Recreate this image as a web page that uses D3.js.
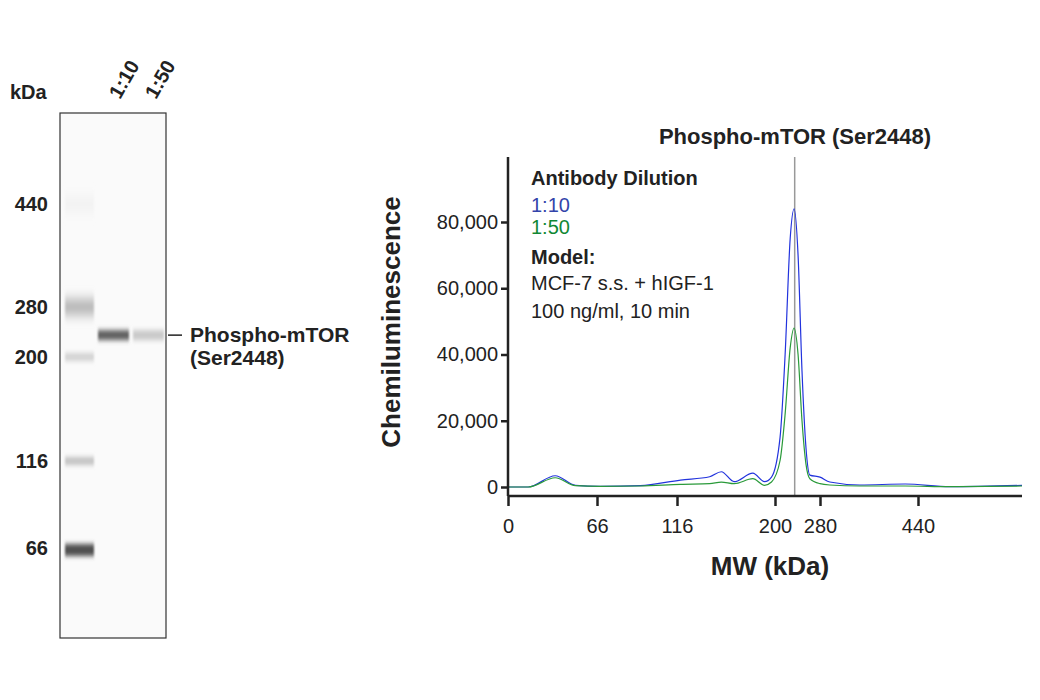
<!DOCTYPE html>
<html><head><meta charset="utf-8">
<script src="https://cdn.jsdelivr.net/npm/d3@7"></script>
<style>body{margin:0;background:#fff}text{font-family:"Liberation Sans",Arial,sans-serif;fill:#222}</style>
</head><body><svg id="c" width="1040" height="700"></svg>
<script>
const xTicks=[0,66,116,200,280,440];
const yTicks=[0,20000,40000,60000,80000];
const kda10=[0,15,35,50,68,93,119,144,154,165,181,191,197,209,218,227,234,241,248,255,262,280,296,345,419,492,610];
const val10=[0,0,3400,500,200,400,2100,3100,4600,1600,4200,1600,3000,15000,40000,75000,84000,70000,35000,12000,3600,3000,1500,600,900,100,500];
const kda50=[0,15,35,50,68,93,119,144,154,165,181,191,197,209,218,227,234,241,248,255,262,280,296,345,419,492,610];
const val50=[0,0,2800,400,200,300,800,1000,1500,1000,2500,500,1500,8000,22000,42000,48000,40000,20000,7000,2500,1000,600,300,300,100,300];
const ladderKda=[440,280,200,116,66];
const ladderInt=[0.1,0.4,0.28,0.35,0.75];
const lanes=["1:10","1:50"];
const laneInt=[0.7,0.32];
const targetKda=235;

const svg=d3.select("#c");
const gy=d3.scaleLinear().domain([66,116,200,280,440]).range([548,461,357,307,204]);
const defs=svg.append("defs");
defs.append("filter").attr("id","b").attr("x","-20%").attr("y","-200%").attr("width","140%").attr("height","500%")
 .append("feGaussianBlur").attr("stdDeviation","1 2.5");
defs.append("filter").attr("id","b2").attr("x","-20%").attr("y","-200%").attr("width","140%").attr("height","500%")
 .append("feGaussianBlur").attr("stdDeviation","1 6");
svg.append("rect").attr("x",60).attr("y",113).attr("width",106).attr("height",525).attr("fill","#fafafa").attr("stroke","#333").attr("stroke-width",1.2);
svg.selectAll(".lad").data(ladderKda).join("rect").attr("x",65).attr("width",29)
 .attr("y",d=>gy(d)-(d>=280?8:4)).attr("height",d=>d>=280?16:(d==66?12:8))
 .attr("fill",(d,i)=>d3.interpolateGreys(ladderInt[i])).attr("filter",d=>d>=280?"url(#b2)":"url(#b)");
svg.selectAll(".ln").data(lanes).join("rect").attr("x",(d,i)=>98+i*35).attr("width",31)
 .attr("y",gy(targetKda)-5).attr("height",10).attr("fill",(d,i)=>d3.interpolateGreys(laneInt[i])).attr("filter","url(#b)");
svg.selectAll(".gl").data(ladderKda).join("text").attr("x",48).attr("y",d=>gy(d)+7).attr("text-anchor","end")
 .attr("font-size",20).attr("font-weight","bold").text(d=>d);
svg.append("text").attr("x",10).attr("y",99).attr("font-size",20).attr("font-weight","bold").text("kDa");
svg.selectAll(".lt").data(lanes).join("text").attr("font-size",20).attr("font-weight","bold")
 .attr("transform",(d,i)=>`translate(${120+i*36},100) rotate(-60)`).text(d=>d);
svg.append("line").attr("x1",168).attr("x2",182).attr("y1",gy(targetKda)).attr("y2",gy(targetKda)).attr("stroke","#222").attr("stroke-width",1.5);
svg.append("text").attr("x",190).attr("y",gy(targetKda)+7).attr("font-size",21).attr("font-weight","bold").text("Phospho-mTOR");
svg.append("text").attr("x",190).attr("y",gy(targetKda)+30).attr("font-size",21).attr("font-weight","bold").text("(Ser2448)");

const x=d3.scaleLinear().domain([0,66,116,200,280,440,610]).range([508,597,677,775,820,918,1022]);
const y=d3.scaleLinear().domain([0,80000]).range([487,222]);
const line=d3.line().x(d=>x(d[0])).y(d=>y(d[1])).curve(d3.curveMonotoneX);
svg.append("line").attr("x1",x(targetKda)).attr("x2",x(targetKda)).attr("y1",157).attr("y2",496).attr("stroke","#999").attr("stroke-width",1.5);
svg.append("path").datum(kda10.map((k,i)=>[k,val10[i]])).attr("d",line).attr("fill","none").attr("stroke","#2233dd").attr("stroke-width",1.2);
svg.append("path").datum(kda50.map((k,i)=>[k,val50[i]])).attr("d",line).attr("fill","none").attr("stroke","#2a9a3a").attr("stroke-width",1.2);
const xa=svg.append("g").attr("transform","translate(0,496)").call(d3.axisBottom(x).tickValues(xTicks).tickSize(10).tickFormat(d3.format("d")));
xa.select(".domain").attr("d","M508,0H1022").attr("stroke","#222").attr("stroke-width",2.5);
const ya=svg.append("g").attr("transform","translate(508,0)").call(d3.axisLeft(y).tickValues(yTicks).tickSize(7).tickFormat(d3.format(",")));
ya.select(".domain").attr("d","M0,157V496").attr("stroke","#222").attr("stroke-width",2.5);
[xa,ya].forEach(a=>{a.selectAll(".tick line").attr("stroke","#222").attr("stroke-width",2.5);a.selectAll("text").attr("font-size",20).attr("fill","#222").style("font-family",'"Liberation Sans",Arial,sans-serif');});
xa.selectAll("text").attr("dy","1.2em");
svg.append("text").attr("x",795).attr("y",144).attr("text-anchor","middle").attr("font-size",22).attr("font-weight","bold").text("Phospho-mTOR (Ser2448)");
svg.append("text").attr("transform","translate(400,322) rotate(-90)").attr("text-anchor","middle").attr("font-size",26).attr("font-weight","bold").text("Chemiluminescence");
svg.append("text").attr("x",770).attr("y",575).attr("text-anchor","middle").attr("font-size",26).attr("font-weight","bold").text("MW (kDa)");
const leg=[["Antibody Dilution","bold","#222",185],["1:10","normal","#3344aa",212],["1:50","normal","#118833",234],["Model:","bold","#222",264],["MCF-7 s.s. + hIGF-1","normal","#222",290],["100 ng/ml, 10 min","normal","#222",318]];
svg.selectAll(".lg").data(leg).join("text").attr("x",531).attr("y",d=>d[3]).attr("font-size",20).attr("font-weight",d=>d[1]).style("fill",d=>d[2]).text(d=>d[0]);
</script></body></html>
